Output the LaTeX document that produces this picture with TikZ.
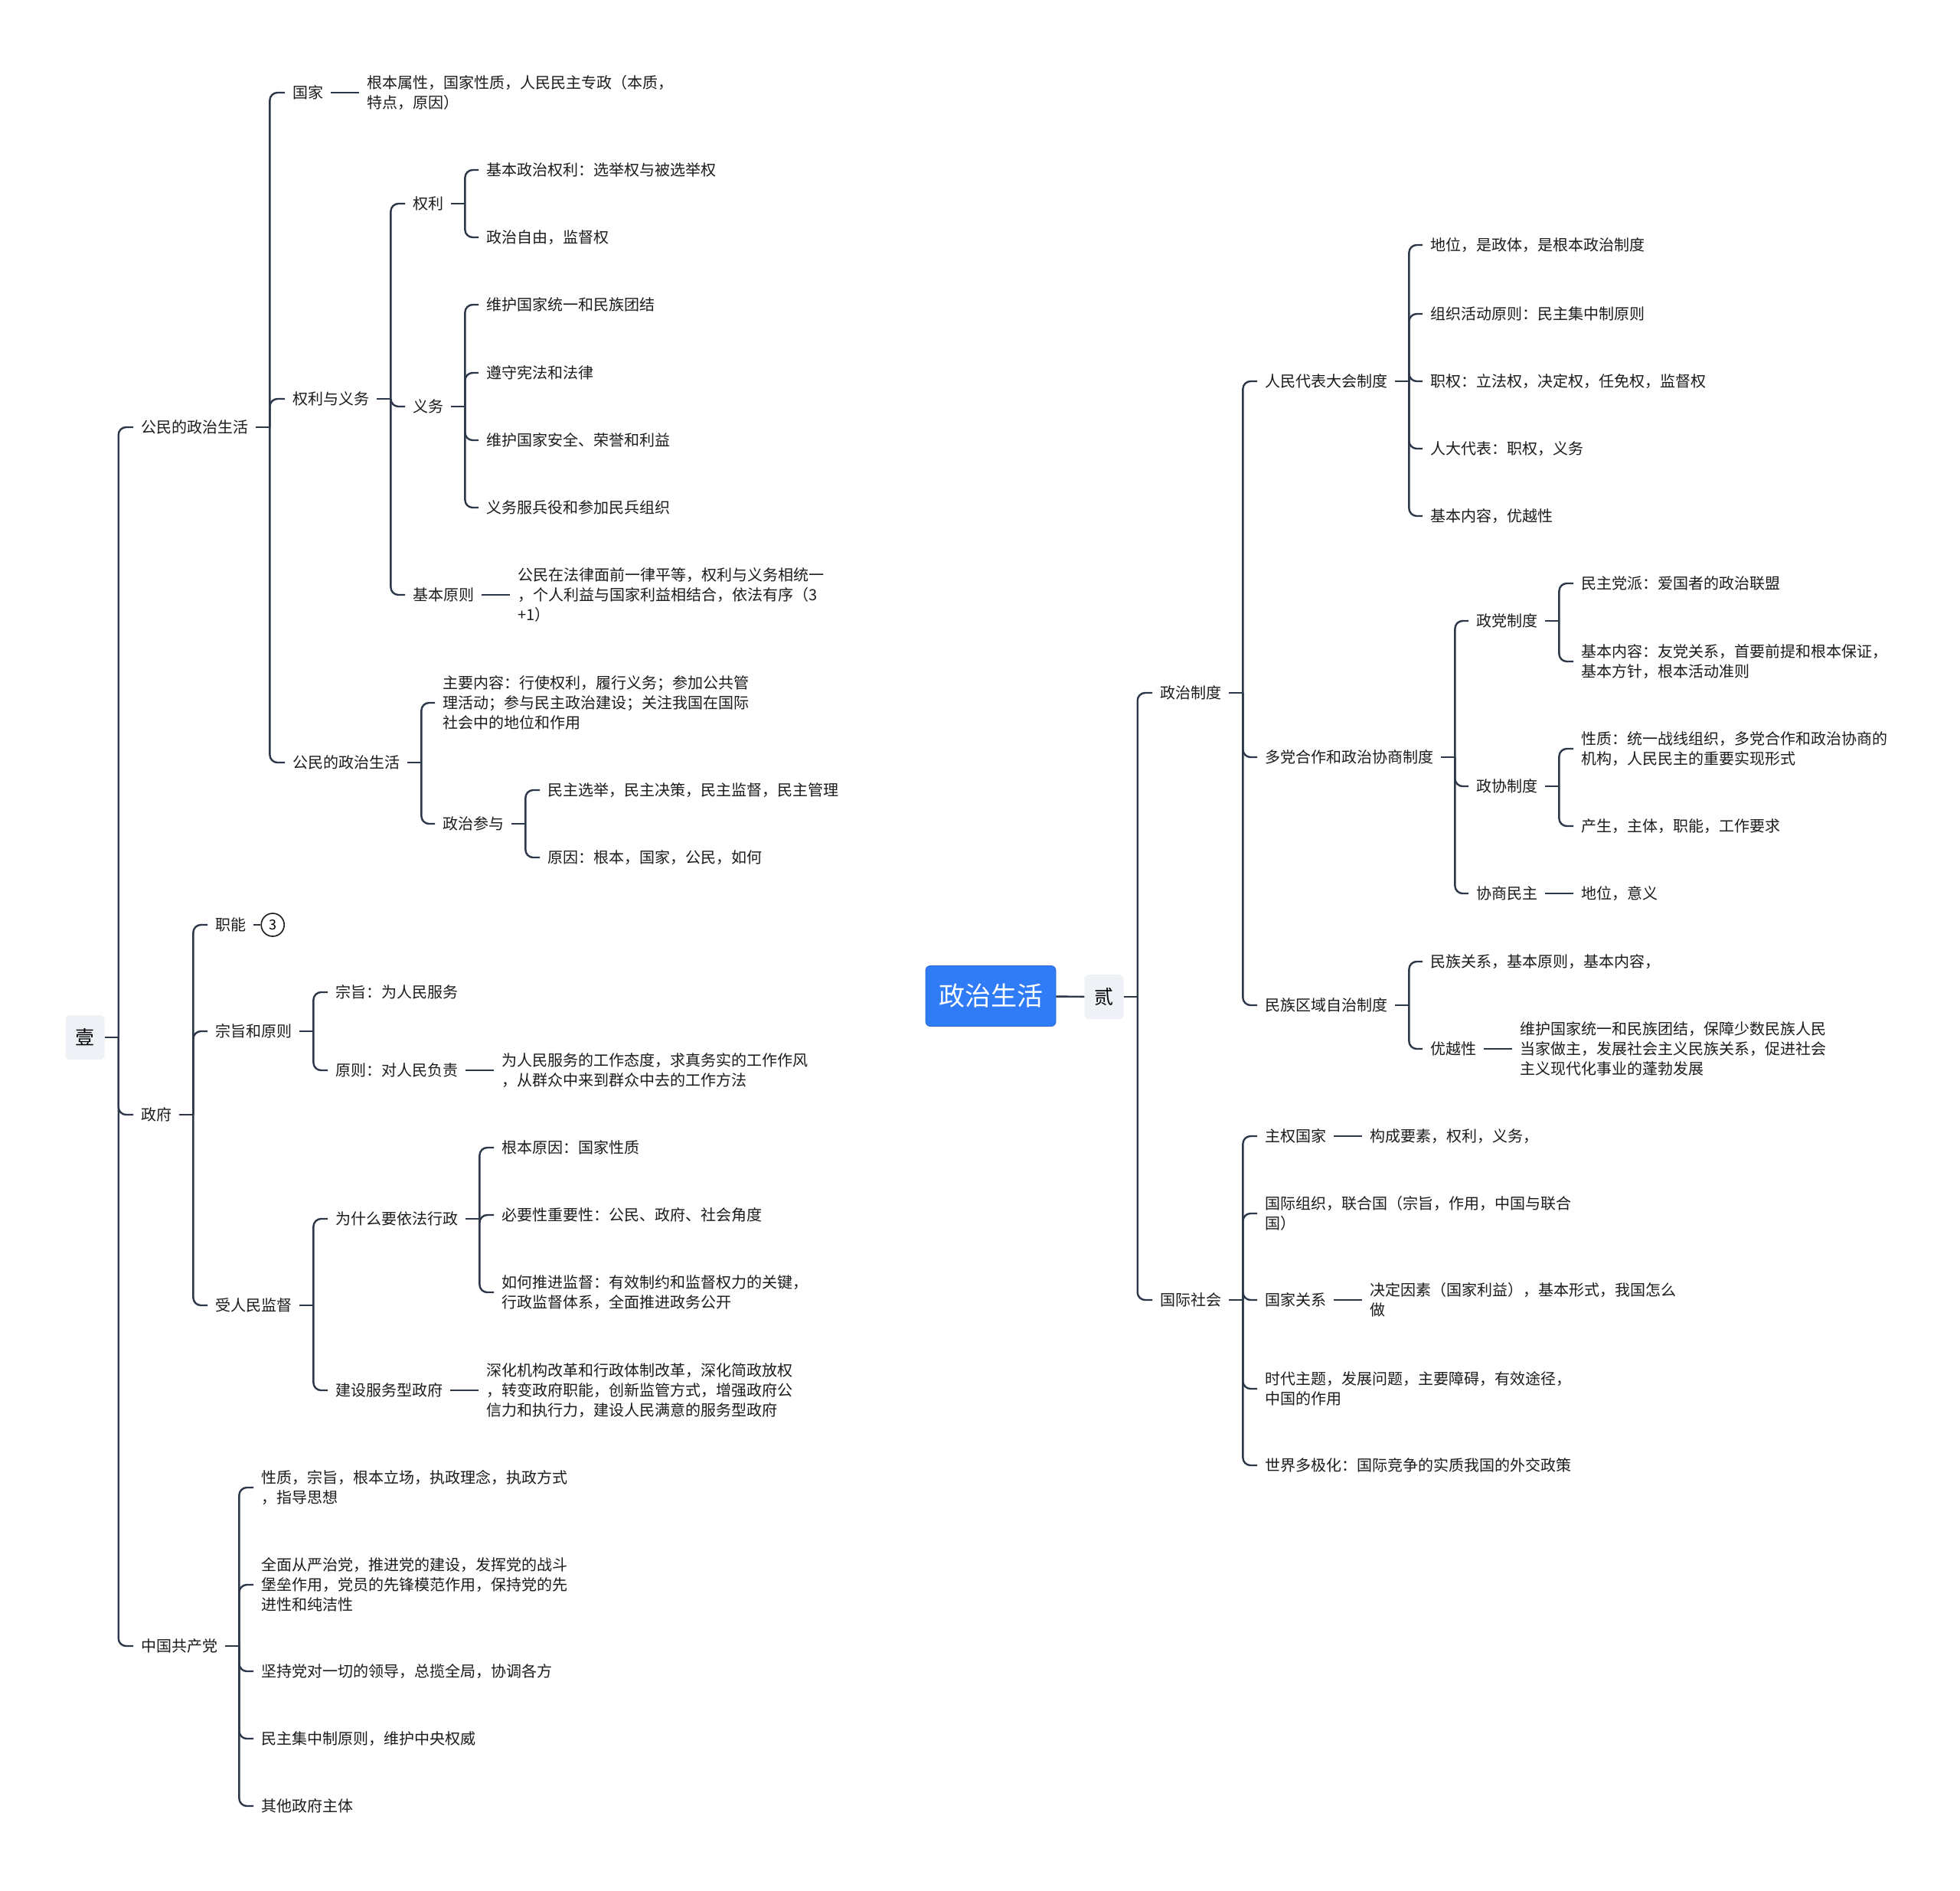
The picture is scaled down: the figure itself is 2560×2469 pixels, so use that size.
\documentclass[tikz,border=0pt]{standalone}
\usepackage{fontspec}
\newfontfamily\cjk{Noto Sans CJK SC}
\usepackage{tikz}
\usetikzlibrary{positioning, calc}
\definecolor{linecol}{RGB}{44,56,74}
\definecolor{txtcol}{RGB}{28,28,28}
\definecolor{rootblue}{RGB}{47,124,246}
\definecolor{tagfill}{RGB}{238,241,245}
\tikzset{
  topic/.style={anchor=west, inner xsep=10pt, inner ysep=2pt, align=left,
    text=txtcol, font=\cjk\fontsize{20}{26}\selectfont},
  tag/.style={rectangle, fill=tagfill, rounded corners=6pt, minimum width=51pt,
    minimum height=58pt, inner sep=0pt, text=black, font=\cjk\fontsize{25}{30}\selectfont},
  rootbox/.style={rectangle, fill=rootblue, draw=rootblue!85!black, line width=0.8pt,
    rounded corners=6pt, minimum width=170pt, minimum height=79pt, inner sep=0pt,
    text=white, font=\cjk\fontsize{34}{40}\selectfont},
  numdot/.style={circle, draw=txtcol, line width=1.6pt, minimum size=30pt, inner sep=0pt,
    font=\cjk\fontsize{18}{20}\selectfont},
  link/.style={line width=2.4pt, color=linecol, rounded corners=10pt},
  stub/.style={line width=2.4pt, color=linecol}
}

\begin{document}
\begin{tikzpicture}[x=1pt, y=-1pt, node distance=37pt]
  \fill[white] (0,0) rectangle (2560,2469);
  \useasboundingbox (0,0) rectangle (2560,2469);

  % centre
  \node[rootbox] (root) at (1294,1301) {政治生活};
  \node[tag] (two) at (1442,1302) {贰};
  \node[tag] (one) at (111,1355) {壹};
  \draw[stub] (root) -- (two);

  % ---- left tree
  \node[topic] (civic) at (174,558) {公民的政治生活};
  \node[topic] (gov) at (174,1456) {政府};
  \node[topic] (party) at (174,2150) {中国共产党};

  \node[topic] (state) at (372,121) {国家};
  \node[topic, right=of state] (stateD) {根本属性，国家性质，人民民主专政（本质，\\特点，原因）};
  \node[topic] (rights) at (372,521) {权利与义务};
  \node[topic] (civic2) at (372,996) {公民的政治生活};

  \node[topic] (quanli) at (529,266) {权利};
  \node[topic] (qlA) at (625,222) {基本政治权利：选举权与被选举权};
  \node[topic] (qlB) at (625,310) {政治自由，监督权};
  \node[topic] (yiwu) at (529,531) {义务};
  \node[topic] (ywA) at (625,398) {维护国家统一和民族团结};
  \node[topic] (ywB) at (625,487) {遵守宪法和法律};
  \node[topic] (ywC) at (625,575) {维护国家安全、荣誉和利益};
  \node[topic] (ywD) at (625,663) {义务服兵役和参加民兵组织};
  \node[topic] (yuanze) at (529,777) {基本原则};
  \node[topic, right=of yuanze] (yuanzeD) {公民在法律面前一律平等，权利与义务相统一\\，个人利益与国家利益相结合，依法有序（3\\+1）};

  \node[topic] (neirong) at (568,918) {主要内容：行使权利，履行义务；参加公共管\\理活动；参与民主政治建设；关注我国在国际\\社会中的地位和作用};
  \node[topic] (canyu) at (568,1076) {政治参与};
  \node[topic] (cyA) at (705,1032) {民主选举，民主决策，民主监督，民主管理};
  \node[topic] (cyB) at (705,1120) {原因：根本，国家，公民，如何};

  \node[topic] (zhineng) at (271,1208) {职能};
  \node[numdot, right=9pt of zhineng] (num3) {3};
  \node[topic] (zongzhi) at (271,1347) {宗旨和原则};
  \node[topic] (zzA) at (428,1296) {宗旨：为人民服务};
  \node[topic] (zzB) at (428,1398) {原则：对人民负责};
  \node[topic, right=of zzB] (zzBD) {为人民服务的工作态度，求真务实的工作作风\\，从群众中来到群众中去的工作方法};
  \node[topic] (jiandu) at (271,1705) {受人民监督};
  \node[topic] (yifa) at (428,1592) {为什么要依法行政};
  \node[topic] (yfA) at (645,1499) {根本原因：国家性质};
  \node[topic] (yfB) at (645,1587) {必要性重要性：公民、政府、社会角度};
  \node[topic] (yfC) at (645,1688) {如何推进监督：有效制约和监督权力的关键，\\行政监督体系，全面推进政务公开};
  \node[topic] (fuwu) at (428,1816) {建设服务型政府};
  \node[topic, right=of fuwu] (fuwuD) {深化机构改革和行政体制改革，深化简政放权\\，转变政府职能，创新监管方式，增强政府公\\信力和执行力，建设人民满意的服务型政府};

  \node[topic] (ptA) at (331,1943) {性质，宗旨，根本立场，执政理念，执政方式\\，指导思想};
  \node[topic] (ptB) at (331,2070) {全面从严治党，推进党的建设，发挥党的战斗\\堡垒作用，党员的先锋模范作用，保持党的先\\进性和纯洁性};
  \node[topic] (ptC) at (331,2183) {坚持党对一切的领导，总揽全局，协调各方};
  \node[topic] (ptD) at (331,2271) {民主集中制原则，维护中央权威};
  \node[topic] (ptE) at (331,2359) {其他政府主体};

  % ---- right tree
  \node[topic] (zhidu) at (1505,905) {政治制度};
  \node[topic] (guoji) at (1505,1698) {国际社会};

  \node[topic] (renda) at (1642,498) {人民代表大会制度};
  \node[topic] (rdA) at (1858,320) {地位，是政体，是根本政治制度};
  \node[topic] (rdB) at (1858,410) {组织活动原则：民主集中制原则};
  \node[topic] (rdC) at (1858,498) {职权：立法权，决定权，任免权，监督权};
  \node[topic] (rdD) at (1858,586) {人大代表：职权，义务};
  \node[topic] (rdE) at (1858,674) {基本内容，优越性};

  \node[topic] (duodang) at (1642,989) {多党合作和政治协商制度};
  \node[topic] (zhengdang) at (1918,811) {政党制度};
  \node[topic] (zdA) at (2055,762) {民主党派：爱国者的政治联盟};
  \node[topic] (zdB) at (2055,864) {基本内容：友党关系，首要前提和根本保证，\\基本方针，根本活动准则};
  \node[topic] (zhengxie) at (1918,1027) {政协制度};
  \node[topic] (zxA) at (2055,978) {性质：统一战线组织，多党合作和政治协商的\\机构，人民民主的重要实现形式};
  \node[topic] (zxB) at (2055,1079) {产生，主体，职能，工作要求};
  \node[topic] (xieshang) at (1918,1167) {协商民主};
  \node[topic, right=of xieshang] (xsD) {地位，意义};

  \node[topic] (minzu) at (1642,1313) {民族区域自治制度};
  \node[topic] (mzA) at (1858,1256) {民族关系，基本原则，基本内容，};
  \node[topic] (youyue) at (1858,1370) {优越性};
  \node[topic, right=of youyue] (youyueD) {维护国家统一和民族团结，保障少数民族人民\\当家做主，发展社会主义民族关系，促进社会\\主义现代化事业的蓬勃发展};

  \node[topic] (gjA) at (1642,1484) {主权国家};
  \node[topic, right=of gjA] (gjAD) {构成要素，权利，义务，};
  \node[topic] (gjB) at (1642,1585) {国际组织，联合国（宗旨，作用，中国与联合\\国）};
  \node[topic] (gjC) at (1642,1698) {国家关系};
  \node[topic, right=of gjC] (gjCD) {决定因素（国家利益），基本形式，我国怎么\\做};
  \node[topic] (gjD) at (1642,1814) {时代主题，发展问题，主要障碍，有效途径，\\中国的作用};
  \node[topic] (gjE) at (1642,1914) {世界多极化：国际竞争的实质我国的外交政策};

  % ---- connectors
  \draw[stub] (one.east) -- ++(18,0) coordinate (one-b);
  \foreach \ch in {civic,gov,party} \draw[link] (one-b) |- (\ch.west);
  \draw[stub] (civic.east) -- ++(18,0) coordinate (civic-b);
  \foreach \ch in {state,rights,civic2} \draw[link] (civic-b) |- (\ch.west);
  \draw[stub] (state) -- (stateD);
  \draw[stub] (rights.east) -- ++(18,0) coordinate (rights-b);
  \foreach \ch in {quanli,yiwu,yuanze} \draw[link] (rights-b) |- (\ch.west);
  \draw[stub] (quanli.east) -- ++(18,0) coordinate (quanli-b);
  \foreach \ch in {qlA,qlB} \draw[link] (quanli-b) |- (\ch.west);
  \draw[stub] (yiwu.east) -- ++(18,0) coordinate (yiwu-b);
  \foreach \ch in {ywA,ywB,ywC,ywD} \draw[link] (yiwu-b) |- (\ch.west);
  \draw[stub] (yuanze) -- (yuanzeD);
  \draw[stub] (civic2.east) -- ++(18,0) coordinate (civic2-b);
  \foreach \ch in {neirong,canyu} \draw[link] (civic2-b) |- (\ch.west);
  \draw[stub] (canyu.east) -- ++(18,0) coordinate (canyu-b);
  \foreach \ch in {cyA,cyB} \draw[link] (canyu-b) |- (\ch.west);

  \draw[stub] (gov.east) -- ++(18,0) coordinate (gov-b);
  \foreach \ch in {zhineng,zongzhi,jiandu} \draw[link] (gov-b) |- (\ch.west);
  \draw[stub] (zhineng) -- (num3);
  \draw[stub] (zongzhi.east) -- ++(18,0) coordinate (zongzhi-b);
  \foreach \ch in {zzA,zzB} \draw[link] (zongzhi-b) |- (\ch.west);
  \draw[stub] (zzB) -- (zzBD);
  \draw[stub] (jiandu.east) -- ++(18,0) coordinate (jiandu-b);
  \foreach \ch in {yifa,fuwu} \draw[link] (jiandu-b) |- (\ch.west);
  \draw[stub] (yifa.east) -- ++(18,0) coordinate (yifa-b);
  \foreach \ch in {yfA,yfB,yfC} \draw[link] (yifa-b) |- (\ch.west);
  \draw[stub] (fuwu) -- (fuwuD);
  \draw[stub] (party.east) -- ++(18,0) coordinate (party-b);
  \foreach \ch in {ptA,ptB,ptC,ptD,ptE} \draw[link] (party-b) |- (\ch.west);

  \draw[stub] (two.east) -- ++(18,0) coordinate (two-b);
  \foreach \ch in {zhidu,guoji} \draw[link] (two-b) |- (\ch.west);
  \draw[stub] (zhidu.east) -- ++(18,0) coordinate (zhidu-b);
  \foreach \ch in {renda,duodang,minzu} \draw[link] (zhidu-b) |- (\ch.west);
  \draw[stub] (renda.east) -- ++(18,0) coordinate (renda-b);
  \foreach \ch in {rdA,rdB,rdC,rdD,rdE} \draw[link] (renda-b) |- (\ch.west);
  \draw[stub] (duodang.east) -- ++(18,0) coordinate (duodang-b);
  \foreach \ch in {zhengdang,zhengxie,xieshang} \draw[link] (duodang-b) |- (\ch.west);
  \draw[stub] (zhengdang.east) -- ++(18,0) coordinate (zhengdang-b);
  \foreach \ch in {zdA,zdB} \draw[link] (zhengdang-b) |- (\ch.west);
  \draw[stub] (zhengxie.east) -- ++(18,0) coordinate (zhengxie-b);
  \foreach \ch in {zxA,zxB} \draw[link] (zhengxie-b) |- (\ch.west);
  \draw[stub] (xieshang) -- (xsD);
  \draw[stub] (minzu.east) -- ++(18,0) coordinate (minzu-b);
  \foreach \ch in {mzA,youyue} \draw[link] (minzu-b) |- (\ch.west);
  \draw[stub] (youyue) -- (youyueD);
  \draw[stub] (guoji.east) -- ++(18,0) coordinate (guoji-b);
  \foreach \ch in {gjA,gjB,gjC,gjD,gjE} \draw[link] (guoji-b) |- (\ch.west);
  \draw[stub] (gjA) -- (gjAD);
  \draw[stub] (gjC) -- (gjCD);
\end{tikzpicture}
\end{document}
